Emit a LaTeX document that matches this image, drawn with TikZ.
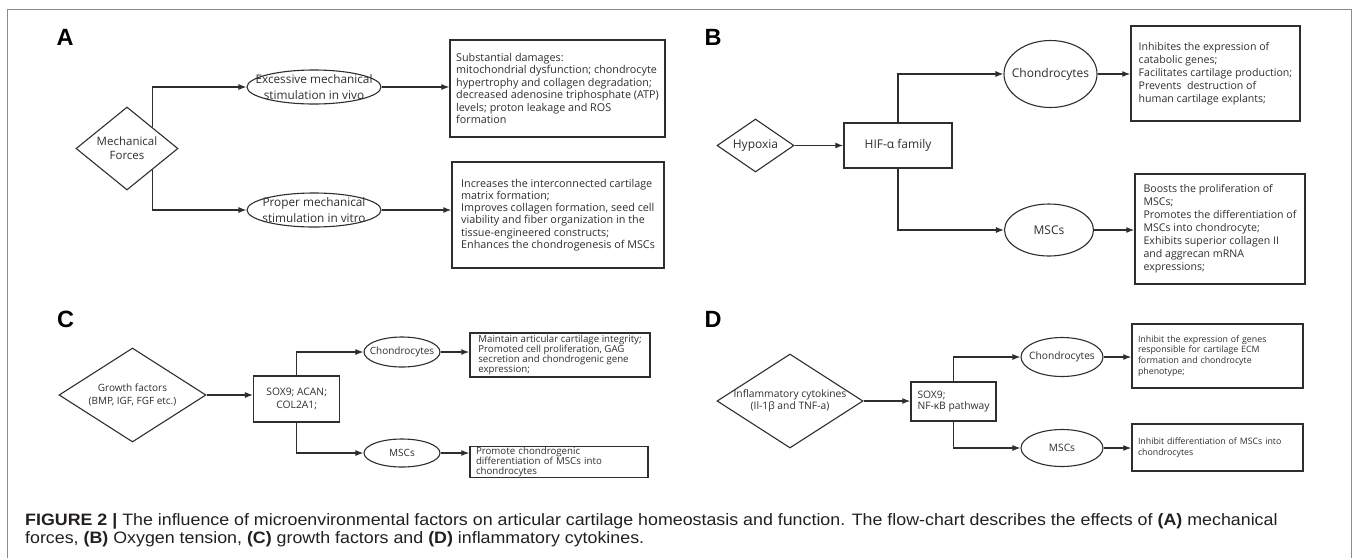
\documentclass[tikz,border=0pt]{standalone}
\usepackage{fontspec}
\setmainfont{Open Sans}
\newfontfamily\capfont{Liberation Sans}
\newfontfamily\capwide[FakeStretch=1.08]{Liberation Sans}
\usetikzlibrary{arrows.meta, shapes.geometric}

\definecolor{ink}{HTML}{2E2E2E}
\definecolor{framegray}{HTML}{8A8A8A}
\definecolor{captext}{HTML}{231F20}

\begin{document}
\begin{tikzpicture}[x=1pt, y=-1pt]

% styles
\tikzstyle{letter}=[inner sep=0, text=black, font=\capfont\bfseries\fontsize{23.5}{24}\selectfont]
\tikzstyle{dia}=[diamond, draw=ink, line width=1.1pt, inner sep=0, align=center, text=ink]
\tikzstyle{ell}=[ellipse, draw=ink, line width=1.1pt, inner xsep=-12pt, inner ysep=-5pt, align=center, text=ink]
\tikzstyle{gene}=[rectangle, draw=ink, line width=1.5pt, inner sep=0, align=center, text=ink]
\tikzstyle{effect}=[rectangle, draw=ink, line width=1.5pt, inner xsep=6pt, inner ysep=0, align=left, text=ink]
\tikzstyle{arr}=[draw=ink, line width=1.1pt, -{Latex[length=8pt, width=6pt]}]
\tikzstyle{capline}=[anchor=base west, inner sep=0, text=captext, font=\capwide\fontsize{16.5}{18}\selectfont]

\useasboundingbox (0,0) rectangle (1354,558);
\draw[framegray, line width=1pt] (7.5,558) -- (7.5,9.5) -- (1351,9.5) -- (1351,558);

% panel A
\node[letter] (labA) at (65,37) {A};
\node[dia, aspect=1.23, minimum width=102pt, minimum height=83pt, font=\fontsize{11.5}{14}\selectfont] (mech) at (127,148.5) {Mechanical\\Forces};
\node[ell, minimum width=134pt, minimum height=34pt, font=\fontsize{11.8}{16}\selectfont] (vivo) at (314,87) {Excessive mechanical\\stimulation in vivo};
\node[ell, minimum width=134pt, minimum height=34pt, font=\fontsize{11.8}{16}\selectfont] (vitro) at (314,210) {Proper mechanical\\stimulation in vitro};
\node[effect, minimum width=213pt, minimum height=97pt, font=\fontsize{10.8}{12.5}\selectfont] (damage) at (557.5,88.5) {Substantial damages:\\mitochondrial dysfunction; chondrocyte\\hypertrophy and collagen degradation;\\decreased adenosine triphosphate (ATP)\\levels; proton leakage and ROS\\formation};
\node[effect, minimum width=212pt, minimum height=106pt, font=\fontsize{10.8}{12.3}\selectfont] (benefit) at (558,215) {Increases the interconnected cartilage\\matrix formation;\\Improves collagen formation, seed cell\\viability and fiber organization in the\\tissue-engineered constructs;\\Enhances the chondrogenesis of MSCs};

\draw[arr] (mech.north east) |- (vivo.west);
\draw[arr] (mech.south east) |- (vitro.west);
\draw[arr] (vivo.east) -- (vivo.east -| damage.west);
\draw[arr] (vitro.east) -- (vitro.east -| benefit.west);

% panel B
\node[letter] (labB) at (713,37) {B};
\node[dia, aspect=1.45, minimum width=77pt, minimum height=53pt, font=\fontsize{12}{14}\selectfont] (hypoxia) at (755.5,145.5) {Hypoxia};
\node[gene, minimum width=108pt, minimum height=45pt, font=\fontsize{12}{14}\selectfont] (hif) at (898,145.5) {HIF-α family};
\node[ell, minimum width=93pt, minimum height=67pt, font=\fontsize{12}{14}\selectfont] (chondroB) at (1050.5,74) {Chondrocytes};
\node[ell, minimum width=89pt, minimum height=52pt, font=\fontsize{12}{14}\selectfont] (mscB) at (1049,230) {MSCs};
\node[effect, minimum width=169pt, minimum height=95pt, font=\fontsize{10.6}{13}\selectfont] (chondroBfx) at (1215.5,73.5) {Inhibites the expression of\\catabolic genes;\\Facilitates cartilage production;\\Prevents\ \ destruction of\\human cartilage explants;};
\node[effect, minimum width=170pt, minimum height=110pt, font=\fontsize{10.6}{13}\selectfont] (mscBfx) at (1220,229) {Boosts the proliferation of\\MSCs;\\Promotes the differentiation of\\MSCs into chondrocyte;\\Exhibits superior collagen II\\and aggrecan mRNA\\expressions;};

\draw[arr] (hypoxia.east) -- (hypoxia.east -| hif.west);
\draw[arr] (hif.north) |- (chondroB.west);
\draw[arr] (hif.south) |- (mscB.west);
\draw[arr] (chondroB.east) -- (chondroB.east -| chondroBfx.west);
\draw[arr] (mscB.east) -- (mscB.east -| mscBfx.west);

% panel C
\node[letter] (labC) at (65.5,319) {C};
\node[dia, aspect=1.56, inner sep=-2pt, minimum width=147pt, minimum height=94pt, font=\fontsize{10}{13}\selectfont] (growth) at (132.5,395) {Growth factors\\(BMP, IGF, FGF etc.)};
\node[gene, minimum width=86pt, minimum height=46pt, font=\fontsize{10.3}{13}\selectfont] (soxC) at (296.7,399) {SOX9; ACAN;\\COL2A1;};
\node[ell, minimum width=76pt, minimum height=30pt, font=\fontsize{10}{12}\selectfont] (chondroC) at (402,352) {Chondrocytes};
\node[ell, minimum width=76pt, minimum height=28pt, font=\fontsize{10}{12}\selectfont] (mscC) at (402,453) {MSCs};
\node[effect, minimum width=180pt, minimum height=44pt, font=\fontsize{9.7}{10.2}\selectfont] (chondroCfx) at (560,355) {Maintain articular cartilage integrity;\\Promoted cell proliferation, GAG\\secretion and chondrogenic gene\\expression;};
\node[effect, text width=166pt, minimum height=31pt, font=\fontsize{9.7}{10.2}\selectfont] (mscCfx) at (559,462) {Promote chondrogenic\\differentiation of MSCs into\\chondrocytes};

\draw[arr] (growth.east) -- (growth.east -| soxC.west);
\draw[arr] (soxC.north) |- (chondroC.west);
\draw[arr] (soxC.south) |- (mscC.west);
\draw[arr] (chondroC.east) -- (chondroC.east -| chondroCfx.west);
\draw[arr] (mscC.east) -- (mscC.east -| mscCfx.west);

% panel D
\node[letter] (labD) at (713,319) {D};
\node[dia, aspect=1.55, inner sep=-6pt, minimum width=146pt, minimum height=94pt, font=\fontsize{10.3}{11.5}\selectfont] (inflam) at (790,401) {Inflammatory cytokines\\(Il-1β and TNF-a)};
\node[gene, align=left, minimum width=85pt, minimum height=39pt, font=\fontsize{10.3}{11.5}\selectfont] (soxD) at (953.5,401.5) {SOX9;\\NF-κB pathway};
\node[ell, minimum width=82pt, minimum height=39pt, font=\fontsize{10.2}{12}\selectfont] (chondroD) at (1062,357) {Chondrocytes};
\node[ell, minimum width=82pt, minimum height=37pt, font=\fontsize{10.2}{12}\selectfont] (mscD) at (1062,448) {MSCs};
\node[effect, text width=159pt, minimum height=64pt, font=\fontsize{8.8}{10.8}\selectfont] (chondroDfx) at (1217.5,356) {Inhibit the expression of genes\\responsible for cartilage ECM\\formation and chondrocyte\\phenotype;};
\node[effect, text width=159pt, minimum height=47pt, font=\fontsize{8.8}{10.8}\selectfont] (mscDfx) at (1217.5,447.5) {Inhibit differentiation of MSCs into\\chondrocytes};

\draw[arr] (inflam.east) -- (inflam.east -| soxD.west);
\draw[arr] (soxD.north) |- (chondroD.west);
\draw[arr] (soxD.south) |- (mscD.west);
\draw[arr] (chondroD.east) -- (chondroD.east -| chondroDfx.west);
\draw[arr] (mscD.east) -- (mscD.east -| mscDfx.west);

% caption
\node[capline] (cap1) at (25,525.5) {\textbf{FIGURE 2 |} The influence of microenvironmental factors on articular cartilage homeostasis and function. The flow-chart describes the effects of \textbf{(A)} mechanical};
\node[capline] (cap2) at (25,543) {forces, \textbf{(B)} Oxygen tension, \textbf{(C)} growth factors and \textbf{(D)} inflammatory cytokines.};

\end{tikzpicture}
\end{document}
